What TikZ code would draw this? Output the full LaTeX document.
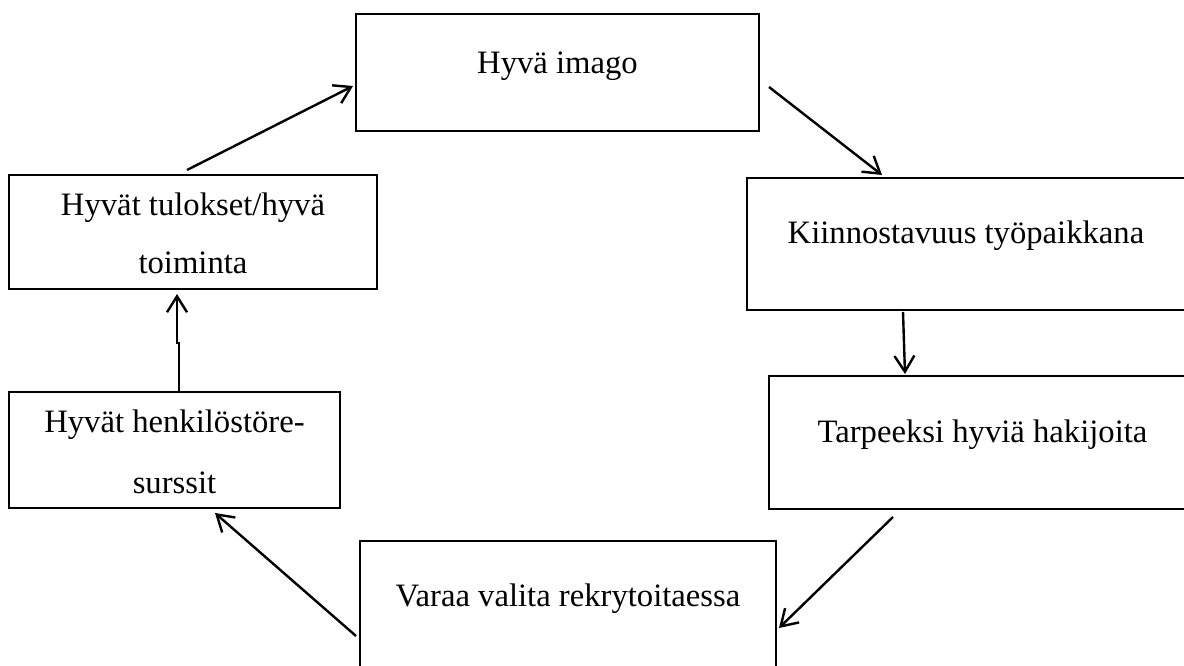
\documentclass[tikz,border=0pt]{standalone}
\usepackage{fontspec}
\setmainfont{Liberation Serif}
\usetikzlibrary{arrows.meta,calc}
\tikzset{
  box/.style={draw=black, line width=1.5pt, inner sep=0pt, fill=none},
  txt/.style={anchor=base, inner sep=0pt, font=\fontsize{24.5pt}{29pt}\selectfont, text=black},
  arr/.style={draw=black, line width=1.8pt, -{Straight Barb[length=12pt,width=15pt,line width=1.8pt]}}
}
\begin{document}
\begin{tikzpicture}[x=0.75pt,y=-0.75pt]
\clip (0,0) rectangle (1184,666);
\fill[white] (0,0) rectangle (1184,666);
% boxes
\node[box, minimum width=302.25pt, minimum height=87.75pt] (A) at (557.5,72.5) {};
\node[box, minimum width=328.5pt, minimum height=99pt] (B) at (966,244) {};
\node[box, minimum width=320.25pt, minimum height=99.75pt] (C) at (982.5,442.5) {};
\node[box, minimum width=312pt, minimum height=101.25pt] (D) at (568,608.5) {};
\node[box, minimum width=276pt, minimum height=85.5pt] (E) at (193,232) {};
\node[box, minimum width=248.25pt, minimum height=87pt] (F) at (174.5,450) {};
% texts
\node[txt] (At) at ($(A.north)+(0,61)$) {Hyvä imago};
\node[txt] (Bt) at ($(B.north)+(0,67)$) {Kiinnostavuus työpaikkana};
\node[txt] (Ct) at ($(C.north)+(0,67)$) {Tarpeeksi hyviä hakijoita};
\node[txt] (Dt) at ($(D.north)+(0,66)$) {Varaa valita rekrytoitaessa};
\node[txt] (Et1) at ($(E.north)+(0,42)$) {Hyvät tulokset/hyvä};
\node[txt] (Et2) at ($(E.north)+(0,100)$) {toiminta};
\node[txt] (Ft1) at ($(F.north)+(0,41)$) {Hyvät henkilöstöre-};
\node[txt] (Ft2) at ($(F.north)+(0,102)$) {surssit};
% connectors
\draw[arr] ($(E.north)+(-6,-4)$) -- ($(A.west)+(-2,13.5)$);
\draw[arr] ($(A.east)+(9,14.5)$) -- ($(B.north west)+(136,-2)$);
\draw[arr] ($(B.south west)+(157,1)$) -- ($(C.north west)+(137,-1)$);
\draw[arr] ($(C.south west)+(125,7)$) -- ($(D.east)+(2,19.5)$);
\draw[arr] ($(D.west)+(-3,27.5)$) -- ($(F.south west)+(207,4)$);
\draw[arr] ($(F.north)+(4.5,0)$) -- ++(0,-48) -- ++(-2,0) -- ($(E.south)+(-16,4)$);
\end{tikzpicture}
\end{document}
